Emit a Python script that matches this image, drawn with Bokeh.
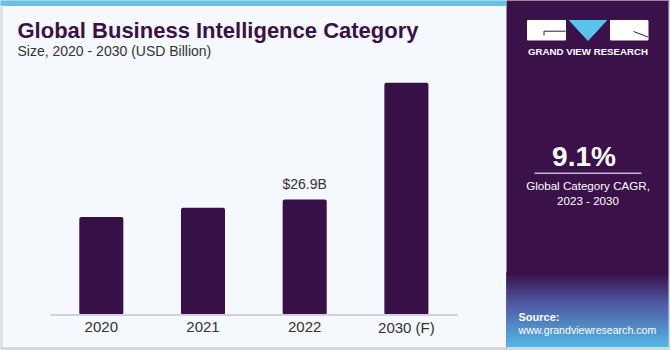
from bokeh.plotting import figure
from bokeh.models import Range1d
from bokeh.layouts import row
from bokeh.embed import file_html
from bokeh.resources import INLINE
from bokeh.core.properties import value

# ---- data ----
categories = ["2020", "2021", "2022", "2030 (F)"]
sizes = [22.8, 25.0, 26.9, 54.1]
bar_labels = ["", "", "$26.9B", ""]
title_text = "Global Business Intelligence Category"
subtitle_text = "Size, 2020 - 2030 (USD Billion)"
cagr_text = "9.1%"
cagr_lines = ["Global Category CAGR,", "2023 - 2030"]
brand_text = "GRAND VIEW RESEARCH"
source_lines = ["Source:", "www.grandviewresearch.com"]

# ---- style ----
BG = "#f5f8fc"
TITLE_C = "#3a1148"
BAR_C = "#371048"
PANEL_C = "#3b1149"
STRIPE_C = "#62c4e9"
BORDER_C = "#d6d8dc"
TXT_C = "#333333"
FONT = value("Liberation Sans")
H = 350
WL = 506
BASE = 314.5
PXPER = 4.294
SLOT = 101.7
X0 = 100.8

xpos = list(range(len(categories)))

left = figure(width=WL, height=H,
              x_range=Range1d(-X0 / SLOT, (WL - X0) / SLOT),
              y_range=Range1d(-(H - BASE) / PXPER, BASE / PXPER),
              output_backend="svg", toolbar_location=None,
              x_axis_location=None, y_axis_location=None,
              min_border=0, outline_line_color=None,
              background_fill_color=BG, border_fill_color=BG)
left.grid.visible = False
left.extra_x_ranges = {"px": Range1d(0, WL)}
left.extra_y_ranges = {"px": Range1d(H, 0)}

# decorations
left.quad(left=0, right=WL, top=0, bottom=5, color=STRIPE_C,
          x_range_name="px", y_range_name="px")
left.quad(left=0, right=WL, top=347, bottom=350, color=BORDER_C,
          x_range_name="px", y_range_name="px")
left.quad(left=0, right=1.5, top=5, bottom=347, color=BORDER_C,
          x_range_name="px", y_range_name="px")

left.text(x=[17], y=[29.8], text=[title_text], text_font=FONT,
          text_font_style="bold", text_font_size="22px", text_color=TITLE_C,
          text_baseline="alphabetic", x_range_name="px", y_range_name="px")
left.text(x=[17], y=[50.6], text=[subtitle_text], text_font=FONT,
          text_font_size="14px", text_color=TXT_C,
          text_baseline="alphabetic", x_range_name="px", y_range_name="px")

# bars
left.vbar(x=xpos, top=sizes, bottom=0, width=0.433, fill_color=BAR_C,
          line_color=None, border_radius=2)
left.text(x=xpos, y=sizes, text=bar_labels, text_font=FONT,
          text_font_size="14px", text_color=TXT_C, text_align="center",
          text_baseline="alphabetic", y_offset=-15)

# axis line and labels
left.segment(x0=[50], x1=[457], y0=[BASE], y1=[BASE], line_color="#cfd3d8",
             line_width=1.8, x_range_name="px", y_range_name="px")
left.text(x=xpos, y=[326.8] * len(categories), text=categories,
          text_font=FONT, text_font_size="15px", text_color=TXT_C,
          text_align="center", text_baseline="alphabetic", y_range_name="px")

# ---- right panel ----
right = figure(width=670 - WL, height=H, x_range=Range1d(WL, 670),
               y_range=Range1d(H, 0), output_backend="svg",
               toolbar_location=None, x_axis_location=None,
               y_axis_location=None, min_border=0, outline_line_color=None,
               background_fill_color=PANEL_C, border_fill_color=PANEL_C)
right.grid.visible = False


def mix(c1, c2, t):
    a = [int(c1[i:i + 2], 16) for i in (1, 3, 5)]
    b = [int(c2[i:i + 2], 16) for i in (1, 3, 5)]
    return "#%02x%02x%02x" % tuple(int(round(a[k] + (b[k] - a[k]) * t)) for k in range(3))


# gradient source area
g_top, g_bot = 272, 347
n = 40
step = (g_bot - g_top) / n
for i in range(n):
    t = i / (n - 1)
    if t < 0.4:
        c = mix(PANEL_C, "#4f56a2", t / 0.4)
    else:
        c = mix("#4f56a2", "#55b6e4", (t - 0.4) / 0.6)
    right.quad(left=WL, right=670, top=g_top + i * step,
               bottom=g_top + (i + 1) * step + 0.5, color=c)

right.quad(left=WL, right=670, top=347, bottom=350, color=BORDER_C)
right.quad(left=668.5, right=670, top=0, bottom=350, color=BORDER_C)

# logo
right.quad(left=527, right=565, top=20, bottom=39.5, color="white")
right.quad(left=610, right=647.5, top=20, bottom=39.5, color="white")
right.patch(x=[569, 606, 587.5], y=[20, 20, 40], color="#5bc2ec")
right.line(x=[543.5, 543.5, 565], y=[35, 30.7, 30.7], line_color=PANEL_C,
           line_width=1)
right.line(x=[633, 647.5], y=[31, 36.5], line_color=PANEL_C, line_width=1)
right.text(x=[587.5], y=[51.3], text=[brand_text], text_font=FONT,
           text_font_style="bold", text_font_size="9.7px", text_color="white",
           text_align="center", text_baseline="alphabetic")

# CAGR
right.text(x=[583.5], y=[155.5], text=[cagr_text], text_font=FONT,
           text_font_style="bold", text_font_size="28px", text_color="white",
           text_align="center", text_baseline="alphabetic")
right.segment(x0=[534], x1=[641], y0=[172.7], y1=[172.7],
              line_color="#c6b3da", line_width=1.5)
right.text(x=[587.5, 587.5], y=[185.2, 200.2], text=cagr_lines,
           text_font=FONT, text_font_size="11.6px", text_color="white",
           text_align="center", text_baseline="alphabetic")

# source
right.text(x=[518], y=[316.9], text=[source_lines[0]], text_font=FONT,
           text_font_style="bold", text_font_size="11px", text_color="white",
           text_baseline="alphabetic")
right.text(x=[518], y=[329.7], text=[source_lines[1]], text_font=FONT,
           text_font_size="10.6px", text_color="white",
           text_baseline="alphabetic")

layout = row(left, right, spacing=0)
open("out.html", "w").write(file_html(layout, INLINE))
